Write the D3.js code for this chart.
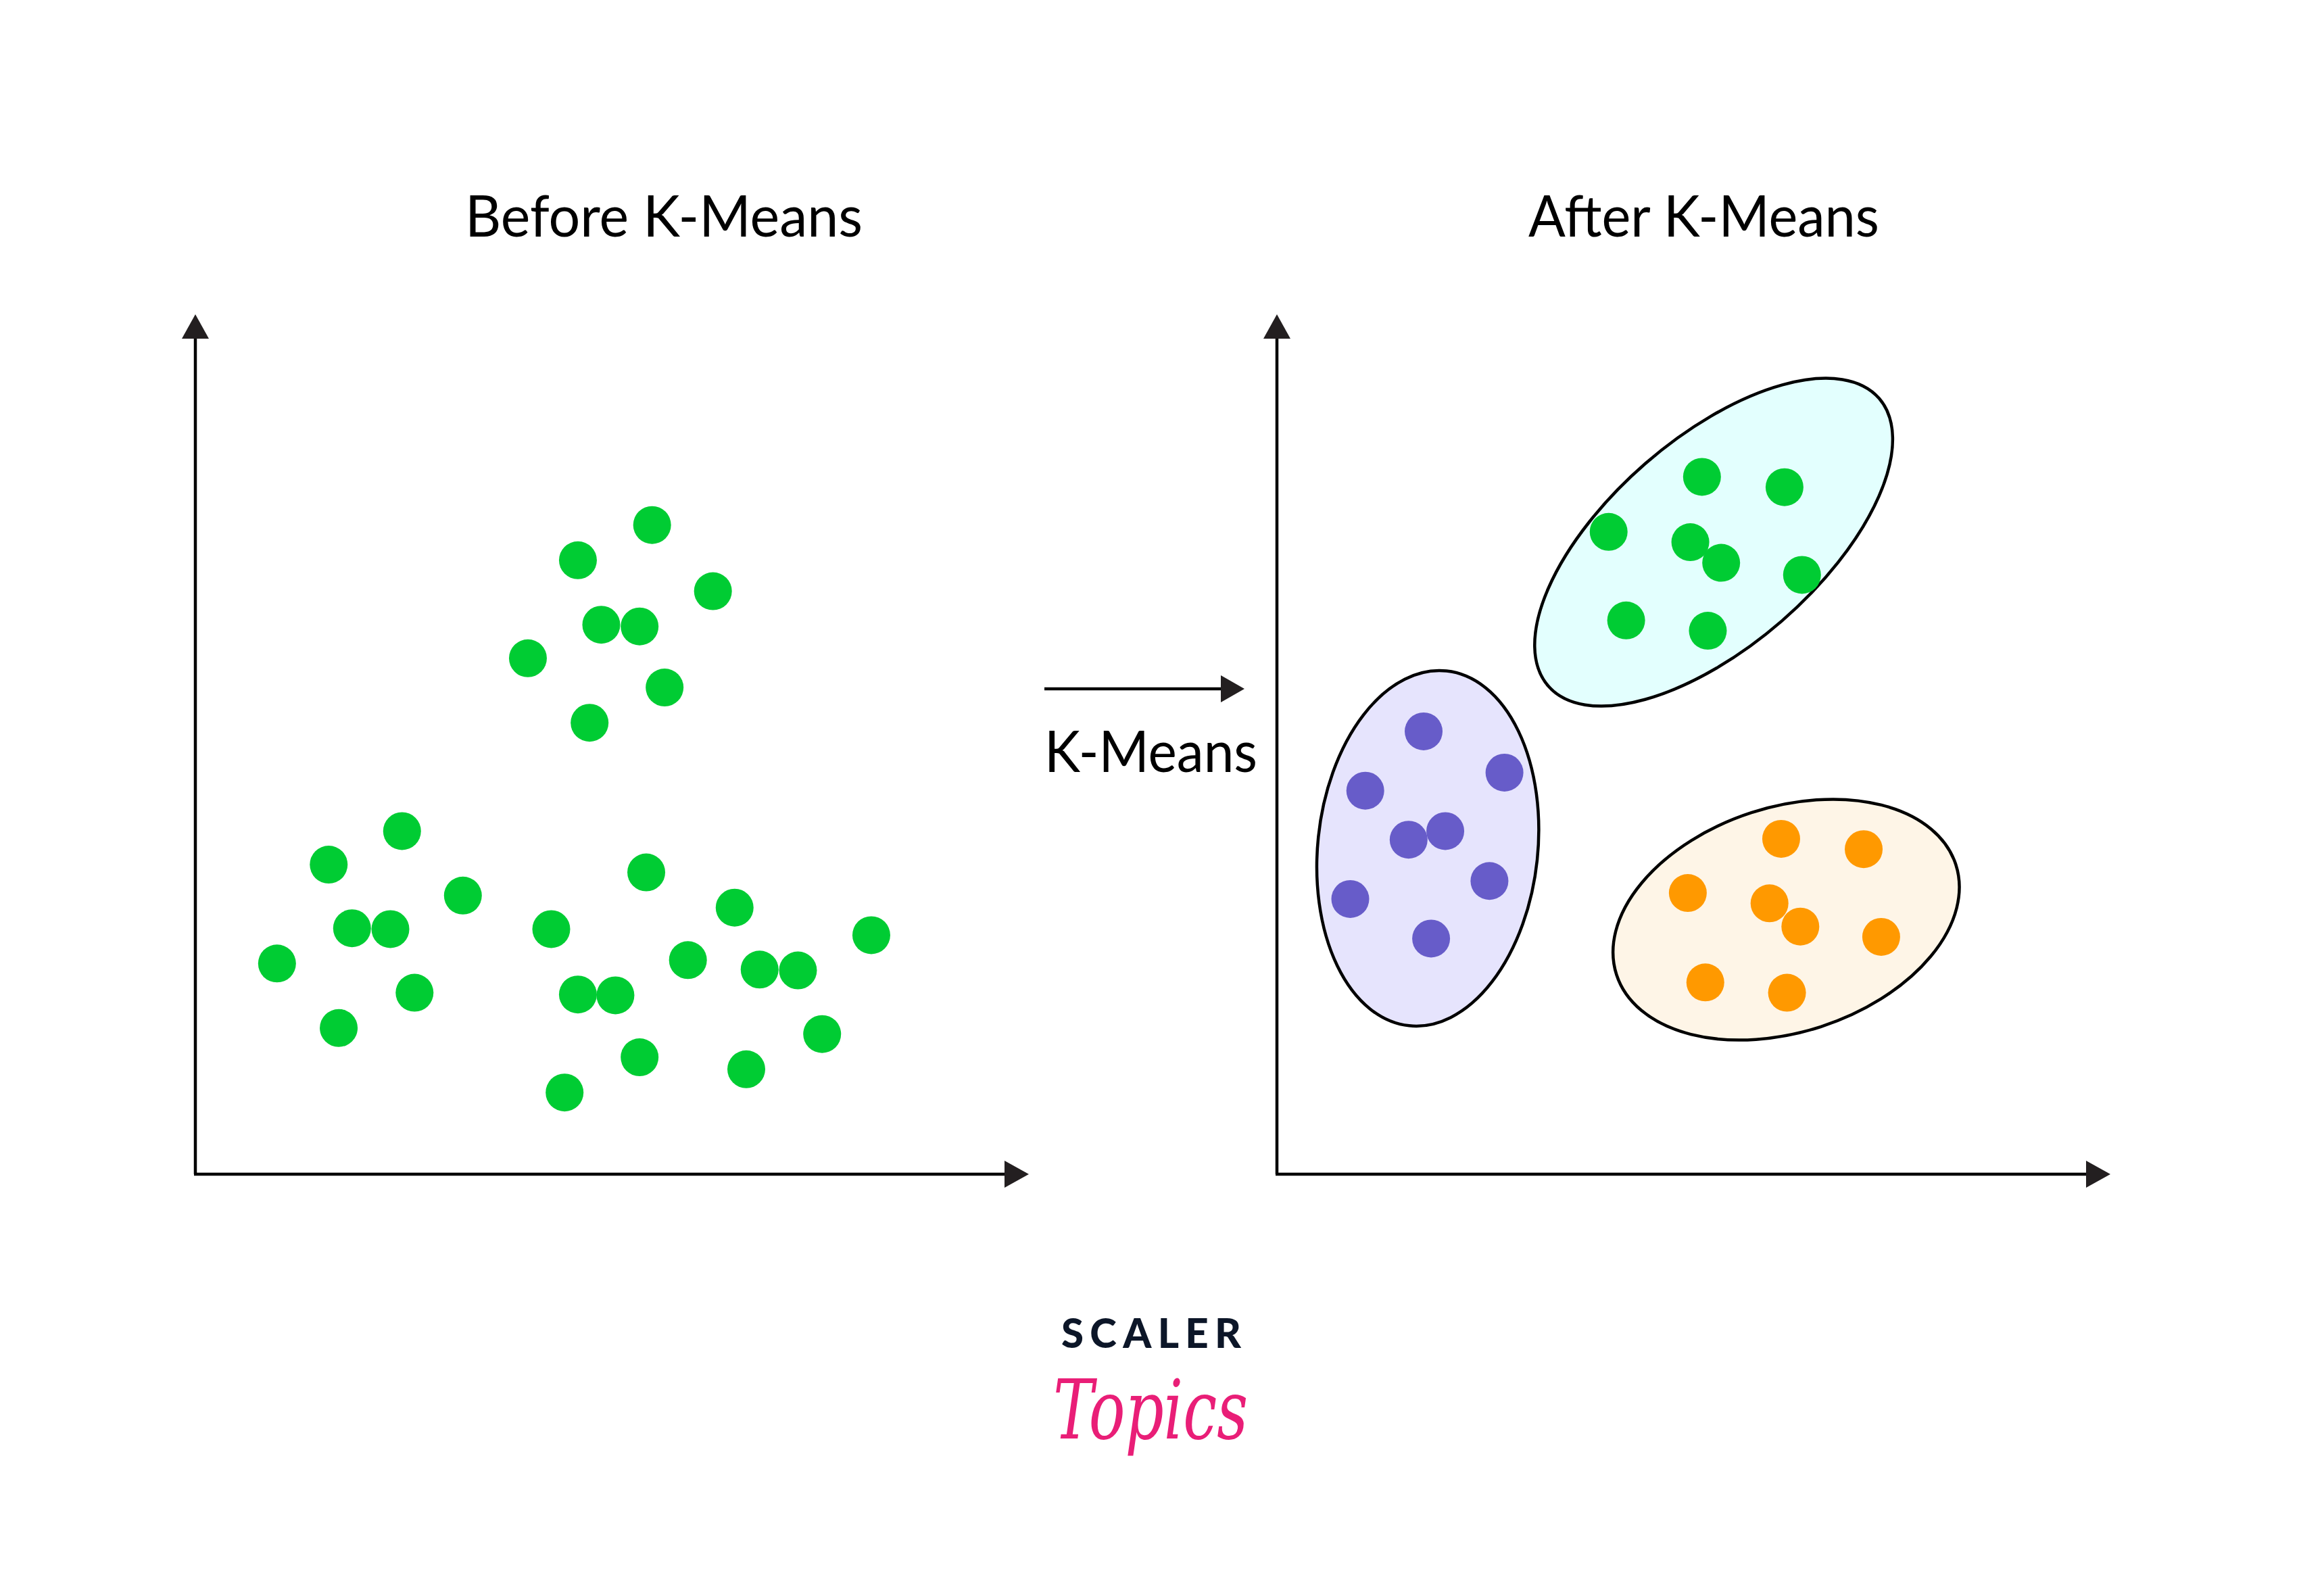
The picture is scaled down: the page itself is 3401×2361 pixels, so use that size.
<!DOCTYPE html>
<html>
<head>
<meta charset="utf-8">
<script src="https://cdn.jsdelivr.net/npm/d3@7"></script>
<style>
  html, body { margin: 0; padding: 0; background: #ffffff; }
  svg { display: block; }
</style>
</head>
<body>
<script>
// ---------------- DATA (axis units 0..100 on both panels) ----------------
const panelTitles = ["Before K-Means", "After K-Means"];
const arrowLabel = "K-Means";
const brandTop = "SCALER";
const brandBottom = "Topics";

// Before: unclustered points
const beforeX = [54.8, 45.9, 62.1, 48.7, 53.3, 39.9, 56.3, 47.3,
                 24.8, 16.0, 32.1, 18.8, 23.4, 9.8, 26.3, 17.2,
                 54.1, 64.7, 42.7, 81.1, 59.1, 67.7, 72.3, 45.9, 50.4, 75.2, 53.3, 66.1, 44.3];
const beforeY = [75.5, 71.4, 67.8, 63.9, 63.7, 60.0, 56.6, 52.5,
                 39.9, 36.0, 32.4, 28.6, 28.5, 24.5, 21.1, 17.0,
                 35.1, 31.0, 28.5, 27.8, 24.9, 23.8, 23.7, 20.9, 20.8, 16.3, 13.6, 12.2, 9.5];

// After: three clusters
const clusterNames = ["green", "purple", "orange"];
const greenX  = [51.0, 60.9, 39.8, 49.6, 53.3, 63.0, 41.9, 51.7];
const greenY  = [81.1, 79.9, 74.7, 73.5, 71.1, 69.7, 64.4, 63.2];
const purpleX = [17.6, 27.3, 10.6, 20.2, 15.8, 25.5, 8.8, 18.5];
const purpleY = [51.5, 46.7, 44.6, 39.9, 38.9, 34.1, 32.0, 27.4];
const orangeX = [60.5, 70.4, 49.3, 59.1, 62.8, 72.5, 51.4, 61.2];
const orangeY = [39.0, 37.8, 32.7, 31.5, 28.8, 27.6, 22.3, 21.1];

// cluster ellipses: centre (units), semi-axes (units), tilt (degrees)
const ellipseCX    = [52.4, 18.1, 61.1];
const ellipseCY    = [73.5, 37.9, 29.6];
const ellipseA     = [26.3, 21.4, 21.4];
const ellipseB     = [12.5, 13.2, 13.5];
const ellipseAngle = [41, 84, 18];

// ---------------- STYLE ----------------
const W = 3401, H = 2361;
const dotFill = { green: "#00CC33", purple: "#675CC9", orange: "#FF9900" };
const hullFill = { green: "#E3FFFE", purple: "#E6E4FD", orange: "#FEF5E7" };
const headColor = "#231F20";
const textFont = "Lato, 'Source Sans Pro', 'Noto Sans', sans-serif";
const dotR = 28;

const svg = d3.select("body").append("svg")
  .attr("width", W).attr("height", H)
  .attr("viewBox", `0 0 ${W} ${H}`);
svg.append("rect").attr("width", W).attr("height", H).attr("fill", "#fff");

// panel geometry
const panels = [{ ox: 289 }, { ox: 1889 }];
const originY = 1737, axisLenX = 1233, axisTopY = 465;

function makeScales(ox) {
  return {
    x: d3.scaleLinear().domain([0, 100]).range([ox, ox + axisLenX]),
    y: d3.scaleLinear().domain([0, 100]).range([originY, axisTopY])
  };
}

function drawAxes(g, s) {
  const x0 = s.x(0), y0 = s.y(0), x1 = s.x(100), y1 = s.y(100);
  const head = 36, half = 20;
  g.append("line").attr("x1", x0).attr("y1", y0).attr("x2", x0).attr("y2", y1 + head - 2)
    .attr("stroke", "#000").attr("stroke-width", 4.5);
  g.append("line").attr("x1", x0 - 2).attr("y1", y0).attr("x2", x1 - head + 2).attr("y2", y0)
    .attr("stroke", "#000").attr("stroke-width", 4.5);
  g.append("path").attr("d", `M${x0},${y1} L${x0 - half},${y1 + head} L${x0 + half},${y1 + head} Z`)
    .attr("fill", headColor);
  g.append("path").attr("d", `M${x1},${y0} L${x1 - head},${y0 - half} L${x1 - head},${y0 + half} Z`)
    .attr("fill", headColor);
}

// ---- Before panel ----
const s0 = makeScales(panels[0].ox);
const g0 = svg.append("g");
drawAxes(g0, s0);
const beforePts = beforeX.map((x, i) => ({ x, y: beforeY[i] }));
g0.selectAll("circle.pt").data(beforePts).join("circle")
  .attr("class", "pt")
  .attr("cx", d => s0.x(d.x)).attr("cy", d => s0.y(d.y)).attr("r", dotR)
  .attr("fill", dotFill.green);

// ---- After panel ----
const s1 = makeScales(panels[1].ox);
const g1 = svg.append("g");
drawAxes(g1, s1);
const unit = s1.x(1) - s1.x(0);
clusterNames.forEach((name, i) => {
  g1.append("ellipse")
    .attr("cx", 0).attr("cy", 0)
    .attr("rx", ellipseA[i] * unit).attr("ry", ellipseB[i] * unit)
    .attr("transform", `translate(${s1.x(ellipseCX[i])},${s1.y(ellipseCY[i])}) rotate(${-ellipseAngle[i]})`)
    .attr("fill", hullFill[name]).attr("stroke", "#000").attr("stroke-width", 4.5);
});
const clusterXs = [greenX, purpleX, orangeX];
const clusterYs = [greenY, purpleY, orangeY];
clusterNames.forEach((name, i) => {
  const pts = clusterXs[i].map((x, j) => ({ x, y: clusterYs[i][j] }));
  g1.selectAll(`circle.c${i}`).data(pts).join("circle")
    .attr("class", `c${i}`)
    .attr("cx", d => s1.x(d.x)).attr("cy", d => s1.y(d.y)).attr("r", dotR)
    .attr("fill", dotFill[name]);
});

// ---- Titles ----
const titleLefts = [688, 2261];
const titleWidths = [588, 519];
panelTitles.forEach((t, i) => {
  svg.append("text").attr("x", titleLefts[i]).attr("y", 350)
    .attr("font-family", textFont).attr("font-size", 86).attr("fill", "#000")
    .attr("textLength", titleWidths[i]).attr("lengthAdjust", "spacingAndGlyphs")
    .text(t);
});

// ---- middle arrow ----
svg.append("line").attr("x1", 1545).attr("y1", 1019).attr("x2", 1808).attr("y2", 1019)
  .attr("stroke", "#000").attr("stroke-width", 4.5);
svg.append("path").attr("d", "M1841,1019 L1806,999 L1806,1039 Z").attr("fill", headColor);
svg.append("text").attr("x", 1545).attr("y", 1142)
  .attr("font-family", textFont).attr("font-size", 85).attr("fill", "#000")
  .attr("textLength", 315).attr("lengthAdjust", "spacingAndGlyphs")
  .text(arrowLabel);

// ---- brand ----
svg.append("text").attr("x", 1570).attr("y", 1994)
  .attr("font-family", "Lato, 'Noto Sans', sans-serif").attr("font-weight", 900)
  .attr("font-size", 60).attr("fill", "#0C1628")
  .attr("textLength", 266).attr("lengthAdjust", "spacing")
  .text(brandTop);
svg.append("text").attr("x", 1558).attr("y", 2128)
  .attr("font-family", "'DejaVu Serif', serif").attr("font-style", "italic")
  .attr("font-size", 122).attr("fill", "#E91E77")
  .attr("textLength", 288).attr("lengthAdjust", "spacingAndGlyphs")
  .text(brandBottom);
</script>
</body>
</html>
